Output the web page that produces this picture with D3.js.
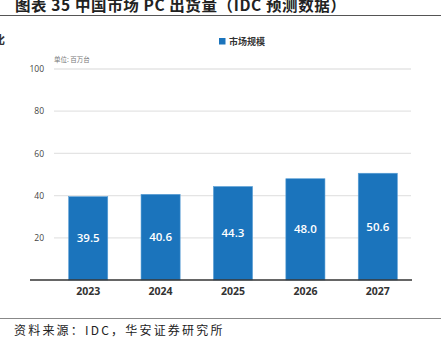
<!DOCTYPE html>
<html><head><meta charset="utf-8">
<script src="https://cdn.jsdelivr.net/npm/d3@7"></script>
<style>body{margin:0;background:#fff}svg{display:block}</style>
</head><body><svg id="c" width="441" height="340"></svg>
<script>
const categories = ["2023","2024","2025","2026","2027"];
const values = [39.5, 40.6, 44.3, 48.0, 50.6];
const yTicks = [20, 40, 60, 80, 100];
const seriesName = "市场规模";
const unitLabel = "单位: 百万台";
const title = "图表 35 中国市场 PC 出货量（IDC 预测数据）";
const source = "资料来源：IDC，华安证券研究所";

const svg = d3.select("#c");
const cjk = "'Noto Sans CJK SC', sans-serif";
const num = "'Open Sans', 'Noto Sans', sans-serif";

svg.append("text").attr("x", 15).attr("y", 10.5).attr("font-family", cjk)
  .attr("font-size", 15.5).attr("font-weight", "bold").attr("letter-spacing", 0.6)
  .attr("fill", "#222").text(title);
svg.append("line").attr("x1", 0).attr("x2", 441).attr("y1", 15.5).attr("y2", 15.5)
  .attr("stroke", "#555").attr("stroke-width", 1.2);
svg.append("text").attr("x", -6).attr("y", 44).attr("font-family", cjk)
  .attr("font-size", 11).attr("font-weight", "bold").attr("fill", "#333").text("比");

const x = d3.scaleBand().domain(categories).range([52, 414]).paddingInner(0.46).paddingOuter(0.23);
const y = d3.scaleLinear().domain([0, 100]).range([280, 69]);

// grid
svg.append("g").selectAll("line").data(yTicks).join("line")
  .attr("x1", 54).attr("x2", 411).attr("y1", d => y(d)).attr("y2", d => y(d))
  .attr("stroke", "#e4e4e4").attr("stroke-width", 1.3);

// y axis labels
const ya = svg.append("g").attr("transform", "translate(44,0)")
  .call(d3.axisLeft(y).tickValues(yTicks).tickSize(0).tickPadding(0));
ya.select(".domain").remove();
ya.selectAll("text").attr("font-family", num).attr("font-size", 8.5).attr("fill", "#444");

svg.append("text").attr("x", 54).attr("y", 62).attr("font-family", cjk)
  .attr("font-size", 6.5).attr("fill", "#777").text(unitLabel);

// bars
svg.append("g").selectAll("rect").data(values).join("rect")
  .attr("x", (d, i) => x(categories[i])).attr("width", x.bandwidth())
  .attr("y", d => y(d)).attr("height", d => y(0) - y(d))
  .attr("fill", "#1b74bc").attr("stroke", "#5a9fd6").attr("stroke-width", 0.6);

svg.append("g").selectAll("text").data(values).join("text")
  .attr("x", (d, i) => x(categories[i]) + x.bandwidth() / 2)
  .attr("y", d => (y(d) + y(0)) / 2 + 4)
  .attr("text-anchor", "middle").attr("font-family", num).attr("font-weight", 600)
  .attr("font-size", 11.5).attr("fill", "#fff").text(d => d.toFixed(1));

// x axis
svg.append("line").attr("x1", 30).attr("x2", 412).attr("y1", 280).attr("y2", 280)
  .attr("stroke", "#333").attr("stroke-width", 1.3);
const xa = svg.append("g").attr("transform", "translate(0,280)")
  .call(d3.axisBottom(x).tickSize(0).tickPadding(0));
xa.select(".domain").remove();
xa.selectAll("text").attr("dy", 14.5).attr("font-family", num).attr("font-weight", "bold")
  .attr("font-size", 10.5).attr("fill", "#333");

// legend
svg.append("rect").attr("x", 219).attr("y", 38).attr("width", 6.5).attr("height", 6.5).attr("fill", "#1b74bc");
svg.append("text").attr("x", 229).attr("y", 45).attr("font-family", cjk)
  .attr("font-size", 9).attr("font-weight", "bold").attr("fill", "#333").text(seriesName);

// footer
svg.append("line").attr("x1", 0).attr("x2", 441).attr("y1", 318.5).attr("y2", 318.5)
  .attr("stroke", "#888").attr("stroke-width", 1);
svg.append("text").attr("x", 14).attr("y", 335).attr("font-family", cjk)
  .attr("font-size", 12).attr("letter-spacing", 2.2).attr("fill", "#222").text(source);
</script></body></html>
